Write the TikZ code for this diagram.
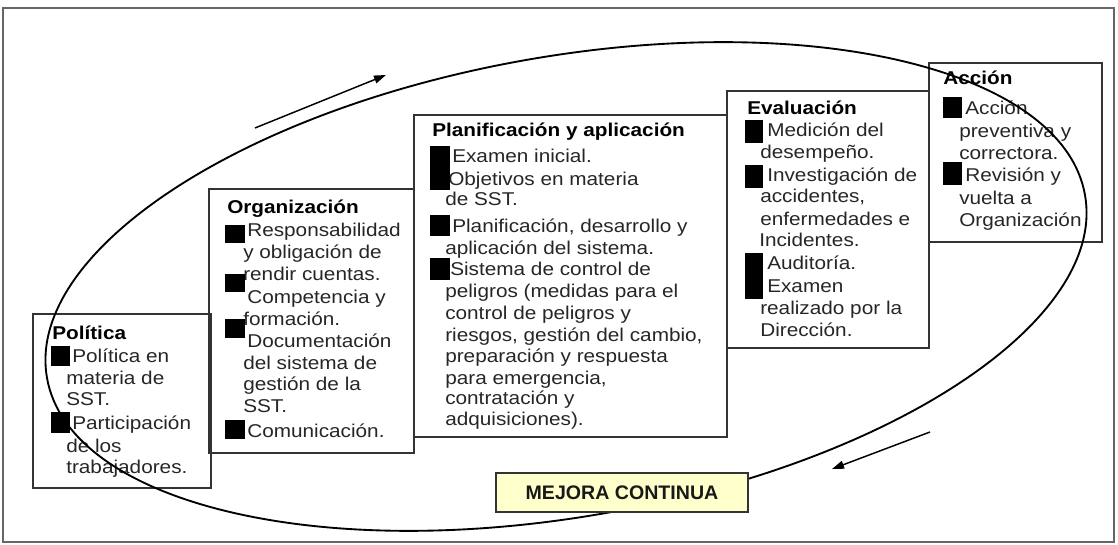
\documentclass[tikz,border=0pt]{standalone}
\usepackage{fontspec}
\setmainfont{Liberation Sans}[FakeStretch=1.12]
\newfontfamily\mejfont{Liberation Sans}
\usetikzlibrary{arrows.meta,fit}
\definecolor{txtc}{HTML}{262626}
\definecolor{boxc}{HTML}{333333}
\definecolor{mejfill}{HTML}{FFFFCC}
\tikzset{
  boxn/.style={draw=boxc, line width=1.1pt, inner sep=0pt},
  tl/.style={anchor=base west, inner sep=0pt, text=txtc, font=\fontsize{13.9pt}{16pt}\selectfont},
  hd/.style={anchor=base west, inner sep=0pt, text=black, font=\fontsize{13.9pt}{16pt}\selectfont\bfseries},
  bul/.style={fill=black},
  ell/.style={draw=black, line width=1.4pt},
  arr/.style={draw=black, line width=1.1pt, -{Triangle[length=9pt,width=6pt]}},
  mejbox/.style={draw=boxc, line width=1.2pt, fill=mejfill, inner sep=0pt},
  mejtxt/.style={inner sep=0pt, font=\mejfont\fontsize{14.7pt}{16pt}\selectfont\bfseries, text=black!90},
  frm/.style={draw=gray!80!black, line width=1.4pt}
}
\begin{document}
\begin{tikzpicture}[x=0.75pt,y=0.75pt]
\useasboundingbox (0,0) rectangle (1118,-545);
\draw[frm] (3,-8) rectangle (1114,-542);

% boxes
\node[boxn, fit={(33,-314)(211,-488)}] (pol) {};
\node[boxn, fit={(209,-189)(414,-453)}] (org) {};
\node[boxn, fit={(414,-115)(727,-437)}] (pla) {};
\node[boxn, fit={(727,-91)(929,-348)}] (eva) {};
\node[boxn, fit={(929,-63)(1102,-242)}] (acc) {};

% Politica
\node[hd] (pol0) at (52,-340) {Política};
\fill[bul] (51,-346) rectangle (70,-366);
\node[tl] (pol1) at (72,-363) {Política en};
\node[tl] (pol2) at (66,-385) {materia de};
\node[tl] (pol3) at (66,-406) {SST.};
\fill[bul] (51,-412) rectangle (70,-433);
\node[tl] (pol4) at (72,-430) {Participación};
\node[tl] (pol5) at (66,-452) {de los};
\node[tl] (pol6) at (66,-473) {trabajadores.};

% Organizacion
\node[hd] (org0) at (227,-214) {Organización};
\fill[bul] (225,-225) rectangle (245,-243);
\node[tl] (org1) at (247,-237) {Responsabilidad};
\node[tl] (org2) at (243,-259) {y obligación de};
\node[tl] (org3) at (243,-281) {rendir cuentas.};
\fill[bul] (225,-274) rectangle (245,-292);
\node[tl] (org4) at (247,-304) {Competencia y};
\node[tl] (org5) at (243,-326) {formación.};
\fill[bul] (225,-319) rectangle (245,-338);
\node[tl] (org6) at (247,-348) {Documentación};
\node[tl] (org7) at (243,-369) {del sistema de};
\node[tl] (org8) at (243,-391) {gestión de la};
\node[tl] (org9) at (243,-412) {SST.};
\fill[bul] (225,-420) rectangle (245,-439);
\node[tl] (org10) at (247,-437) {Comunicación.};

% Planificacion
\node[hd] (pla0) at (432,-137) {Planificación y aplicación};
\node[tl] (pla1) at (452,-163) {Examen inicial.};
\node[tl] (pla2) at (448,-186) {Objetivos en materia};
\fill[bul] (430,-146) rectangle (450,-190);
\node[tl] (pla3) at (445,-206) {de SST.};
\node[tl] (pla4) at (452,-233) {Planificación, desarrollo y};
\fill[bul] (430,-215) rectangle (450,-236);
\node[tl] (pla5) at (445,-255) {aplicación del sistema.};
\node[tl] (pla6) at (450,-276) {Sistema de control de};
\fill[bul] (430,-258) rectangle (450,-280);
\node[tl] (pla7) at (445,-298) {peligros (medidas para el};
\node[tl] (pla8) at (445,-320) {control de peligros y};
\node[tl] (pla9) at (445,-342) {riesgos, gestión del cambio,};
\node[tl] (pla10) at (445,-363) {preparación y respuesta};
\node[tl] (pla11) at (445,-384) {para emergencia,};
\node[tl] (pla12) at (445,-405) {contratación y};
\node[tl] (pla13) at (445,-426) {adquisiciones).};

% Evaluacion
\node[hd] (eva0) at (747,-115) {Evaluación};
\fill[bul] (745,-120) rectangle (763,-143);
\node[tl] (eva1) at (767,-137) {Medición del};
\node[tl] (eva2) at (760,-159) {desempeño.};
\fill[bul] (745,-165) rectangle (763,-188);
\node[tl] (eva3) at (767,-182) {Investigación de};
\node[tl] (eva4) at (760,-203) {accidentes,};
\node[tl] (eva5) at (760,-226) {enfermedades e};
\node[tl] (eva6) at (759,-247) {Incidentes.};
\fill[bul] (745,-253) rectangle (763,-299);
\node[tl] (eva7) at (767,-270) {Auditoría.};
\node[tl] (eva8) at (767,-293) {Examen};
\node[tl] (eva9) at (760,-315) {realizado por la};
\node[tl] (eva10) at (760,-337) {Dirección.};

% Accion
\node[hd] (acc0) at (943,-85) {Acción};
\fill[bul] (943,-97) rectangle (962,-118);
\node[tl] (acc1) at (965,-115) {Acción};
\node[tl] (acc2) at (959,-138) {preventiva y};
\node[tl] (acc3) at (959,-160) {correctora.};
\fill[bul] (943,-162) rectangle (962,-185);
\node[tl] (acc4) at (965,-182) {Revisión y};
\node[tl] (acc5) at (959,-205) {vuelta a};
\node[tl] (acc6) at (959,-227) {Organización};

% ellipse
\draw[ell, rotate around={10:(566,-286.5)}] (566,-286.5) ellipse [x radius=527, y radius=230];

% arrows
\coordinate (a1s) at (255,-128);
\coordinate (a1e) at (386,-75);
\coordinate (a2s) at (930,-432);
\coordinate (a2e) at (832,-469);
\draw[arr] (a1s) -- (a1e);
\draw[arr] (a2s) -- (a2e);

% mejora continua
\node[mejbox, fit={(496,-473)(748,-512)}] (mej) {};
\node[mejtxt] (mejt) at (mej.center) {MEJORA CONTINUA};
\end{tikzpicture}
\end{document}
